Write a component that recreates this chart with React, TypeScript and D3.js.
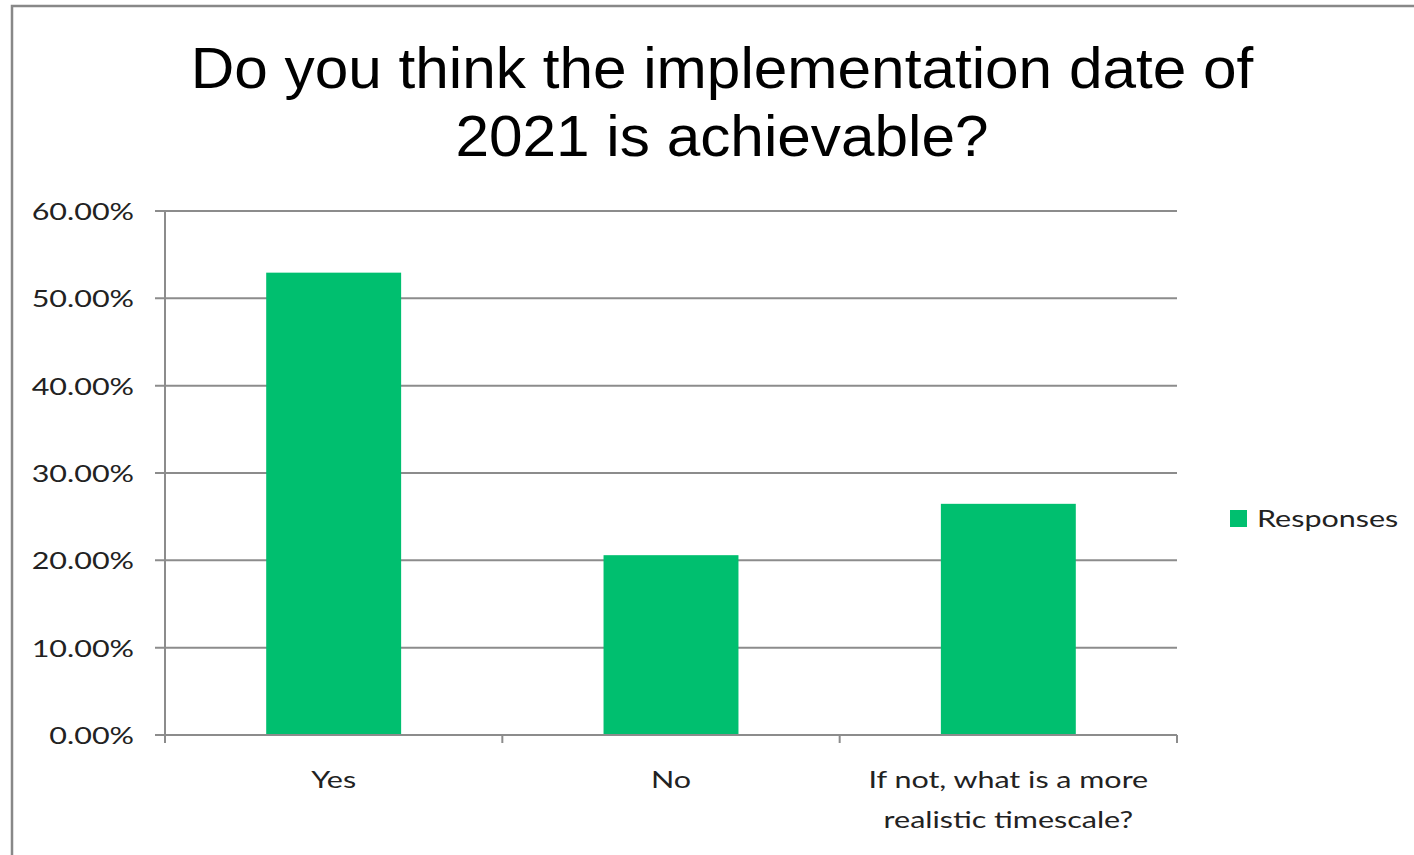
import React from "react";
import * as d3 from "d3";

const categories = ["Yes", "No", "If not, what is a more realistic timescale?"];
const categoryLines = [["Yes"], ["No"], ["If not, what is a more", "realistic timescale?"]];
const values = [0.5294, 0.2059, 0.2647];
const yTicks = [0, 0.1, 0.2, 0.3, 0.4, 0.5, 0.6];
const titleLines = ["Do you think the implementation date of", "2021 is achievable?"];
const seriesName = "Responses";

const W = 1414;
const H = 855;
const left = 165;
const right = 1177;
const top = 211;
const bottom = 735;
const green = "#00BF6F";
const grid = "#8c8c8c";
const labelFont = "Lato, 'Open Sans', sans-serif";
const sx = 1.27;

function Label({ x, y, anchor, children }: { x: number; y: number; anchor: string; children: React.ReactNode }) {
  return (
    <text transform={`translate(${x},${y}) scale(${sx},1)`} textAnchor={anchor} fontFamily={labelFont} fontSize={24} fill="#222">
      {children}
    </text>
  );
}

export default function App() {
  const x = d3.scaleBand<string>().domain(categories).range([left, right]).paddingInner(0.6).paddingOuter(0.3);
  const xb = d3.scaleBand<string>().domain(categories).range([left, right]);
  const y = d3.scaleLinear().domain([0, 0.6]).range([bottom, top]);
  const fmt = (v: number) => (v * 100).toFixed(2) + "%";
  return (
    <svg width={W} height={H} style={{ position: "absolute", left: 0, top: 0 }}>
      <rect x={0} y={0} width={W} height={H} fill="#fff" />
      <rect x={12} y={6} width={W + 20} height={H + 20} fill="#fff" stroke="#888" strokeWidth={2.5} />
      {titleLines.map((t, i) => (
        <text key={i} transform={`translate(722,${88 + i * 68}) scale(1.04,1)`} textAnchor="middle" fontFamily="'Liberation Sans', Arial, sans-serif" fontSize={58} fill="#000">
          {t}
        </text>
      ))}
      {yTicks.map((t) => (
        <g key={t}>
          <line x1={155} x2={right} y1={y(t)} y2={y(t)} stroke={grid} strokeWidth={2} />
          <Label x={134} y={y(t) + 9} anchor="end">{fmt(t)}</Label>
        </g>
      ))}
      {categories.map((c, i) => (
        <rect key={c} x={x(c)!} y={y(values[i])} width={x.bandwidth()} height={bottom - y(values[i])} fill={green} />
      ))}
      <line x1={left} x2={left} y1={top} y2={bottom + 6} stroke={grid} strokeWidth={2} />
      <line x1={155} x2={right} y1={bottom} y2={bottom} stroke={grid} strokeWidth={2} />
      {[...categories.map((c) => xb(c)!), right].map((px, i) => (
        <line key={i} x1={px} x2={px} y1={bottom} y2={bottom + 8} stroke={grid} strokeWidth={2} />
      ))}
      {categories.map((c, i) =>
        categoryLines[i].map((ln, j) => (
          <Label key={c + j} x={xb(c)! + xb.bandwidth() / 2} y={788 + j * 40} anchor="middle">{ln}</Label>
        ))
      )}
      <rect x={1230} y={510} width={17} height={17} fill={green} />
      <Label x={1257} y={527} anchor="start">{seriesName}</Label>
    </svg>
  );
}
